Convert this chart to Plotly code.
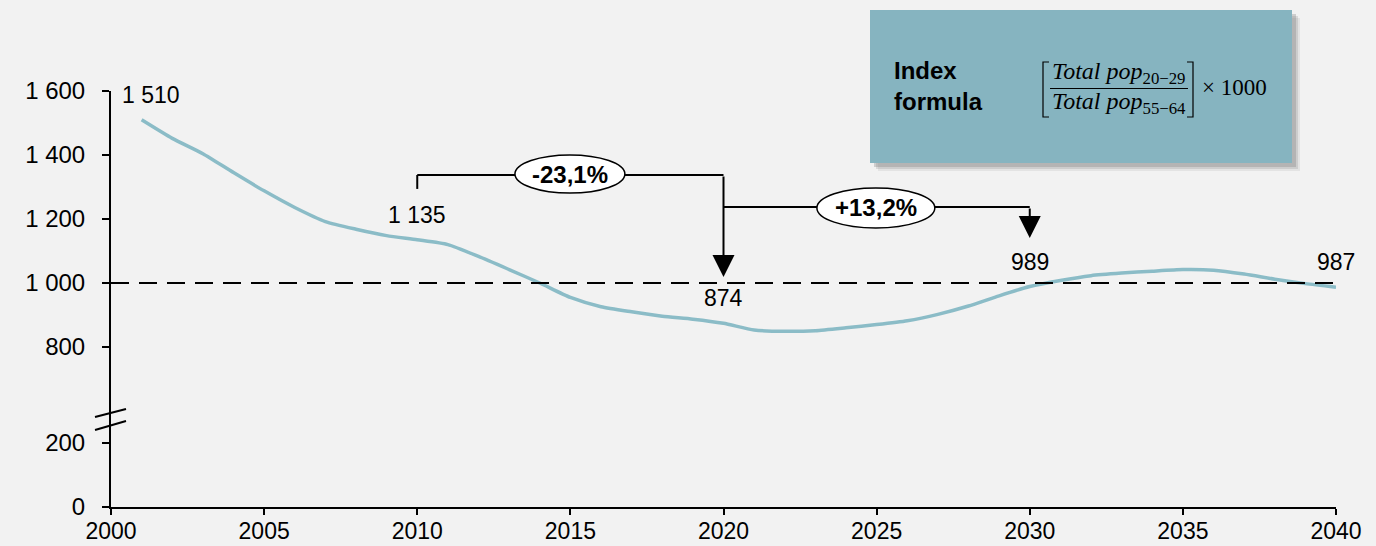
import plotly.graph_objects as go

# ---- data ---------------------------------------------------------------
years = list(range(2001, 2041))
index_values = [
    1510, 1452, 1404, 1345, 1288, 1236, 1192, 1168, 1148, 1135,
    1120, 1083, 1042, 1000, 955, 926, 910, 896, 887, 874,
    853, 849, 851, 860, 870, 882, 902, 928, 960, 989,
    1008, 1023, 1031, 1037, 1042, 1040, 1028, 1012, 998, 987,
]
labelled_years = [2001, 2010, 2020, 2030, 2040]
x_ticks = [2000, 2005, 2010, 2015, 2020, 2025, 2030, 2035, 2040]
lower_ticks = [0, 200]
upper_ticks = [800, 1000, 1200, 1400, 1600]
reference_level = 1000
change_periods = [(2010, 2020), (2020, 2030)]
change_labels = ["-23,1%", "+13,2%"]

# ---- styling ------------------------------------------------------------
W, H = 1376, 546
ML, MR, MT, MB = 111, 40, 91, 39
PW, PH = W - ML - MR, H - MT - MB
BG = "#f2f2f2"
LINE = "#8bbcc7"
BOX = "#86b4c0"
FONT = "Liberation Sans, Arial, sans-serif"
SERIF = "Liberation Serif, DejaVu Serif, serif"


def px(x):
    return (x - ML) / PW


def py(y):
    return (H - MB - y) / PH


def fmt(v):
    return f"{v:,}".replace(",", " ")


BREAK_PX = 423
lower_range = [0, 262.5]
upper_range = [562.5, 1600]

fig = go.Figure()
# empty trace so the lower (0-200) axis segment is laid out
fig.add_trace(go.Scatter(x=[], y=[], xaxis="x", yaxis="y",
                         hoverinfo="skip", showlegend=False))
fig.add_trace(go.Scatter(
    x=years, y=index_values, mode="lines", xaxis="x", yaxis="y2",
    line=dict(color=LINE, width=3.5, shape="spline", smoothing=0.6),
    hoverinfo="skip", showlegend=False,
))

shapes = []
annotations = []

# reference level
shapes.append(dict(type="line", xref="x", yref="y2", x0=2000, x1=2040,
                   y0=reference_level, y1=reference_level,
                   line=dict(color="black", width=2, dash="18px,10px")))

# value labels
val = dict(zip(years, index_values))
for yr in labelled_years:
    annotations.append(dict(
        x=yr, y=val[yr], xref="x", yref="y2", text=fmt(val[yr]),
        showarrow=False, xanchor="center", yanchor="middle",
        xshift=9 if yr == 2001 else 0, yshift=25,
        font=dict(family=FONT, size=23, color="black")))

# change brackets
bracket_levels = [1337.5, 1237.5]
tip_levels = [1019, 1140.6]
ellipses = [((2013.19, 2016.78), (1281, 1400)), ((2023.05, 2026.9), (1172, 1297))]
(a0, a1), (b0, b1) = change_periods
shapes.append(dict(type="line", xref="x", yref="y2", x0=a0, x1=a0,
                   y0=1294, y1=bracket_levels[0], line=dict(color="black", width=2)))
for (s, e), lvl in zip(change_periods, bracket_levels):
    shapes.append(dict(type="line", xref="x", yref="y2", x0=s, x1=e,
                       y0=lvl, y1=lvl, line=dict(color="black", width=2)))
for (s, e), lvl, tip in zip(change_periods, bracket_levels, tip_levels):
    annotations.append(dict(
        x=e, y=tip, xref="x", yref="y2", ax=e, ay=lvl, axref="x", ayref="y2",
        text="", showarrow=True, arrowhead=2, arrowsize=2.2, arrowwidth=2,
        arrowcolor="black", standoff=0))
for ((ex0, ex1), (ey0, ey1)), lab in zip(ellipses, change_labels):
    shapes.append(dict(type="circle", xref="x", yref="y2", x0=ex0, x1=ex1,
                       y0=ey0, y1=ey1, fillcolor="white",
                       line=dict(color="black", width=1.5)))
    annotations.append(dict(
        x=(ex0 + ex1) / 2, y=(ey0 + ey1) / 2, xref="x", yref="y2",
        xanchor="center", yanchor="middle",
        text=f"<b>{lab}</b>", showarrow=False,
        font=dict(family=FONT, size=24, color="black")))

# axis break marks
for (x0, y0, x1, y1) in [(95, 417, 126, 409), (95, 430, 126, 421)]:
    shapes.append(dict(type="line", xref="paper", yref="paper",
                       x0=px(x0), y0=py(y0), x1=px(x1), y1=py(y1),
                       line=dict(color="black", width=2)))

# formula box with soft shadow
for off, op in [(8, 0.12), (6, 0.2), (4, 0.3)]:
    shapes.append(dict(type="rect", xref="paper", yref="paper",
                       x0=px(870 + off), x1=px(1292 + off),
                       y0=py(163 + off), y1=py(10 + off),
                       fillcolor="#7a7a7a", opacity=op, line=dict(width=0)))
shapes.append(dict(type="rect", xref="paper", yref="paper",
                   x0=px(870), x1=px(1292), y0=py(163), y1=py(10),
                   fillcolor=BOX, line=dict(width=0)))
# fraction bar and brackets
shapes.append(dict(type="line", xref="paper", yref="paper",
                   x0=px(1050), x1=px(1188), y0=py(88.5), y1=py(88.5),
                   line=dict(color="black", width=1)))
for xb, xt in [(1043, 1049), (1193, 1187)]:
    shapes.append(dict(type="path", xref="paper", yref="paper",
                       path=f"M {px(xt)},{py(62)} L {px(xb)},{py(62)} "
                            f"L {px(xb)},{py(117)} L {px(xt)},{py(117)}",
                       line=dict(color="black", width=1.2)))

annotations.append(dict(
    x=px(892), y=py(86), xref="paper", yref="paper", xanchor="left",
    yanchor="middle", align="left", showarrow=False,
    text="<b>Index<br>formula</b>", font=dict(family=FONT, size=24, color="black")))
annotations.append(dict(
    x=px(1119), y=py(73), xref="paper", yref="paper", showarrow=False,
    xanchor="center", yanchor="middle",
    text="<i>Total pop</i><sub>20−29</sub>",
    font=dict(family=SERIF, size=24, color="black")))
annotations.append(dict(
    x=px(1119), y=py(103), xref="paper", yref="paper", showarrow=False,
    xanchor="center", yanchor="middle",
    text="<i>Total pop</i><sub>55−64</sub>",
    font=dict(family=SERIF, size=24, color="black")))
annotations.append(dict(
    x=px(1200), y=py(88), xref="paper", yref="paper", xanchor="left",
    yanchor="middle", showarrow=False, text="× 1000",
    font=dict(family=SERIF, size=23, color="black")))

axis_common = dict(
    showline=True, linecolor="black", linewidth=2, ticks="outside",
    tickcolor="black", tickwidth=2, showgrid=False, zeroline=False,
    automargin=False,
)
tick_font = dict(family=FONT, size=24, color="black")

fig.update_layout(
    width=W, height=H, autosize=False,
    margin=dict(l=ML, r=MR, t=MT, b=MB),
    paper_bgcolor=BG, plot_bgcolor=BG,
    showlegend=False,
    xaxis=dict(range=[2000, 2040], tickvals=x_ticks, ticklen=6,
               ticklabelstandoff=-4, anchor="y",
               tickfont=dict(family=FONT, size=23, color="black"), **axis_common),
    yaxis=dict(domain=[0, py(BREAK_PX)], range=lower_range,
               tickvals=lower_ticks, ticktext=[fmt(v) for v in lower_ticks],
               ticklen=7, ticklabelstandoff=12, anchor="x", tickfont=tick_font,
               **axis_common),
    yaxis2=dict(domain=[py(BREAK_PX), 1], range=upper_range,
                tickvals=upper_ticks, ticktext=[fmt(v) for v in upper_ticks],
                ticklen=7, ticklabelstandoff=12, anchor="x", tickfont=tick_font,
                **axis_common),
    shapes=shapes,
    annotations=annotations,
)

fig.write_html("out.html")
